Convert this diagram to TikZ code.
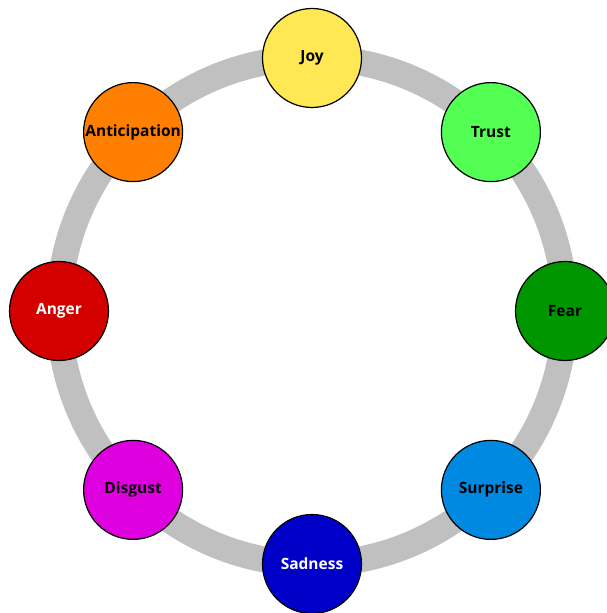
\documentclass[tikz,border=0pt]{standalone}
\usepackage{fontspec}
\setmainfont{Open Sans}
\usetikzlibrary{calc}

\begin{document}
\begin{tikzpicture}[x=1pt,y=1pt]

\definecolor{ringg}{RGB}{192,192,192}
\definecolor{joyc}{RGB}{255,232,84}
\definecolor{trustc}{RGB}{84,255,84}
\definecolor{fearc}{RGB}{0,150,0}
\definecolor{surprisec}{RGB}{0,137,224}
\definecolor{sadnessc}{RGB}{0,0,200}
\definecolor{disgustc}{RGB}{222,0,222}
\definecolor{angerc}{RGB}{212,0,0}
\definecolor{anticipc}{RGB}{255,127,0}

\tikzset{emotion/.style={circle,draw=black,line width=1.2pt,minimum size=99pt,
    inner sep=0pt,font=\fontsize{15.5}{18}\selectfont\bfseries}}

\useasboundingbox (0,0) rectangle (607,613);
\coordinate (hub) at (312,302);

\draw[line width=26pt,color=ringg] (hub) circle (253pt);

\foreach \ang/\nm/\lbl/\col/\tc in
	{90/joy/Joy/joyc/black, 45/trust/Trust/trustc/black,
	 0/fear/Fear/fearc/black, -45/surprise/Surprise/surprisec/black,
	 -90/sadness/Sadness/sadnessc/white, -135/disgust/Disgust/disgustc/black,
	 180/anger/Anger/angerc/white, 135/anticipation/Anticipation/anticipc/black}
	{
		\node[emotion,fill=\col,text=\tc] (\nm) at ($(hub)+(\ang:253pt)$) {\lbl};
	}

\end{tikzpicture}
\end{document}
